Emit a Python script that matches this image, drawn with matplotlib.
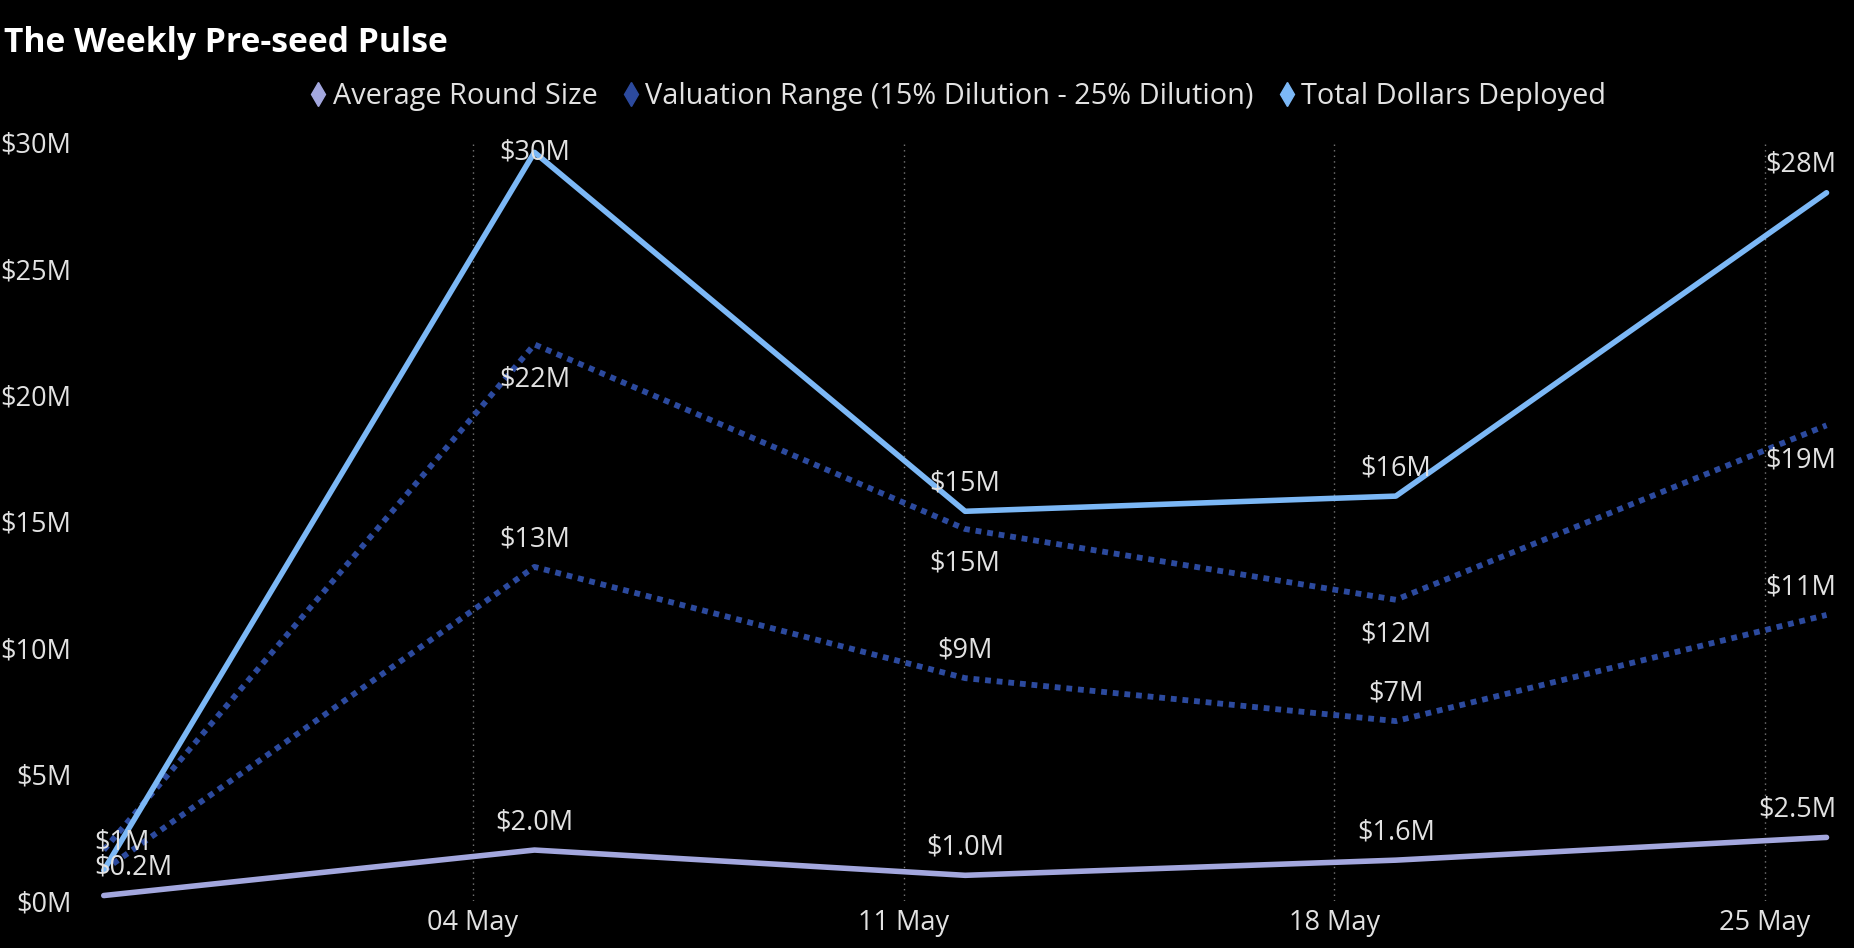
import datetime as dt
import matplotlib
matplotlib.use('Agg')
import matplotlib.pyplot as plt
import matplotlib.dates as mdates
from matplotlib.lines import Line2D

plt.rcParams['font.family'] = ['Open Sans', 'DejaVu Sans']

# weekly data points (Mondays)
weeks = [dt.date(2025, 4, 28), dt.date(2025, 5, 5), dt.date(2025, 5, 12),
         dt.date(2025, 5, 19), dt.date(2025, 5, 26)]
avg_round = [0.2, 2.0, 1.0, 1.6, 2.5]
val_high = [2.0, 22.0, 14.7, 11.9, 18.8]   # 15% dilution
val_low = [1.2, 13.2, 8.8, 7.1, 11.3]      # 25% dilution
total_deployed = [1.2, 29.6, 15.4, 16.0, 28.0]

tick_dates = [dt.date(2025, 5, 4), dt.date(2025, 5, 11), dt.date(2025, 5, 18), dt.date(2025, 5, 25)]
y_ticks = [0, 5, 10, 15, 20, 25, 30]

c_avg = '#a3a7de'
c_val = '#2c4a9e'
c_total = '#7cb8f6'
c_text = '#e2e2e2'
fs = 19.5

fig = plt.figure(figsize=(18.54, 9.48), dpi=100, facecolor='black')
ax = fig.add_axes([0.046, 0.050, 0.9425, 0.800], facecolor='black')

ax.plot(weeks, total_deployed, color=c_total, lw=4.0, solid_capstyle='round', clip_on=False, zorder=4)
ax.plot(weeks, val_high, color=c_val, lw=4.2, ls=(0, (1.0, 1.0)), dash_capstyle='butt', clip_on=False, zorder=3)
ax.plot(weeks, val_low, color=c_val, lw=4.2, ls=(0, (1.0, 1.0)), dash_capstyle='butt', clip_on=False, zorder=3)
ax.plot(weeks, avg_round, color=c_avg, lw=4.0, solid_capstyle='round', clip_on=False, zorder=4)

ax.set_xlim(mdates.date2num(dt.date(2025, 4, 28)) - 0.3, mdates.date2num(dt.date(2025, 5, 26)) + 0.1)
ax.set_ylim(0, 30)

ax.set_xticks(tick_dates)
ax.xaxis.set_major_formatter(mdates.DateFormatter('%d %b'))
ax.set_yticks(y_ticks)
ax.set_yticklabels(['$%dM' % v for v in y_ticks])
ax.tick_params(axis='both', length=0, colors=c_text, labelsize=fs)
ax.tick_params(axis='y', pad=10)
ax.tick_params(axis='x', pad=6)
ax.grid(axis='x', color='#777777', ls=(0, (1, 3)), lw=1.0)
for s in ax.spines.values():
    s.set_visible(False)


def add_labels(xs, ys, fmt, where, skip_first=False):
    n = len(xs)
    for i, (x, y) in enumerate(zip(xs, ys)):
        if skip_first and i == 0:
            continue
        off = 20 if where == 'above' else -25
        ha, dx = 'center', 0
        if i == 0:
            ha, dx = 'left', -7
        elif i == n - 1:
            ha, dx = 'right', 7
        # keep the label inside the plot top
        disp = ax.transData.transform((mdates.date2num(x), y))
        top = ax.transAxes.transform((0, 1))[1]
        if disp[1] + off * 100 / 72 > top - 10:
            off = (top - 10 - disp[1]) * 72 / 100
        ax.annotate(fmt % y, (x, y), xytext=(dx, off), textcoords='offset points',
                    ha=ha, va='center', color=c_text, fontsize=fs, zorder=6,
                    annotation_clip=False)


add_labels(weeks, total_deployed, '$%.0fM', 'above')
add_labels(weeks, val_high, '$%.0fM', 'below', skip_first=True)
add_labels(weeks, val_low, '$%.0fM', 'above', skip_first=True)
add_labels(weeks, avg_round, '$%.1fM', 'above')

fig.text(0.002, 0.955, 'The Weekly Pre-seed Pulse', color='white', fontsize=24.2,
         fontweight='bold', va='center', ha='left')

handles = [Line2D([], [], ls='none', marker='d', color=c, markersize=12)
           for c in (c_avg, c_val, c_total)]
labels = ['Average Round Size', 'Valuation Range (15% Dilution - 25% Dilution)', 'Total Dollars Deployed']
fig.legend(handles, labels, loc='center', bbox_to_anchor=(0.516, 0.898), ncol=3,
           frameon=False, fontsize=20.8, labelcolor=c_text, handletextpad=0.1,
           columnspacing=0.75, handlelength=0.8)

fig.savefig('out.png', dpi=100, facecolor='black')
